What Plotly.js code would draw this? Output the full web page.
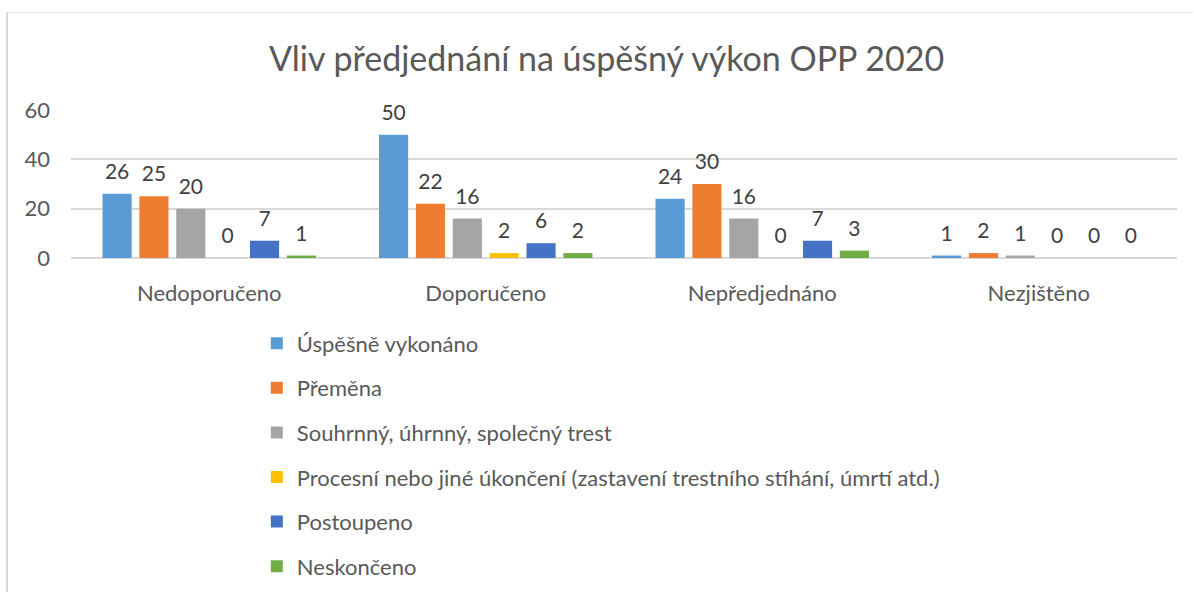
<!DOCTYPE html>
<html>
<head>
<meta charset="utf-8">
<script src="https://cdn.plot.ly/plotly-3.0.1.min.js"></script>
<style>html,body{margin:0;padding:0;background:#fff;}#chart{width:1194px;height:592px;}</style>
</head>
<body>
<div id="chart"></div>
<script>
const categories = ["Nedoporučeno", "Doporučeno", "Nepředjednáno", "Nezjištěno"];
const seriesNames = [
  "Úspěšně vykonáno",
  "Přeměna",
  "Souhrnný, úhrnný, společný trest",
  "Procesní nebo jiné úkončení (zastavení trestního stíhání, úmrtí atd.)",
  "Postoupeno",
  "Neskončeno"
];
const uspesneVykonano = [26, 50, 24, 1];
const premena = [25, 22, 30, 2];
const souhrnny = [20, 16, 16, 1];
const procesni = [0, 2, 0, 0];
const postoupeno = [7, 6, 7, 0];
const neskonceno = [1, 2, 3, 0];
const yTicks = [0, 20, 40, 60];

const seriesValues = [uspesneVykonano, premena, souhrnny, procesni, postoupeno, neskonceno];
const colors = ["#5B9BD5", "#ED7D31", "#A5A5A5", "#FFC000", "#4472C4", "#70AD47"];
const FONT = "Lato, 'Open Sans', sans-serif";

const traces = seriesValues.map((vals, i) => ({
  type: "bar",
  name: seriesNames[i],
  x: categories,
  y: vals,
  marker: {color: colors[i]},
  text: vals.map(String),
  textposition: "outside",
  cliponaxis: false,
  textfont: {family: FONT, size: 21, color: "#404040"},
  legendgroup: "g" + i,
  hoverinfo: "name+y"
}));

const layout = {
  width: 1194,
  height: 592,
  paper_bgcolor: "#ffffff",
  plot_bgcolor: "#ffffff",
  margin: {l: 71, r: 17, t: 110, b: 334, autoexpand: false},
  title: {
    text: "Vliv předjednání na úspěšný výkon OPP 2020",
    font: {family: FONT, size: 34, color: "#595959"},
    x: 0.508, xanchor: "center",
    y: 0.9, yref: "container", yanchor: "middle"
  },
  barmode: "group",
  bargap: 0.2,
  bargroupgap: 0.21,
  showlegend: true,
  legend: {
    orientation: "v",
    x: 0.168, xanchor: "left",
    y: -0.435, yanchor: "top",
    font: {family: FONT, size: 22, color: "#595959"},
    tracegroupgap: 13,
    itemwidth: 30,
    traceorder: "grouped"
  },
  xaxis: {
    type: "category",
    tickfont: {family: FONT, size: 22, color: "#595959"},
    showline: false,
    ticks: "",
    showgrid: false,
    zeroline: false,
    ticklabelstandoff: 20
  },
  yaxis: {
    range: [0, 60],
    tickvals: yTicks,
    ticktext: yTicks.map(String),
    tickfont: {family: FONT, size: 22, color: "#595959"},
    showgrid: true,
    gridcolor: "#D9D9D9",
    gridwidth: 2,
    zeroline: true,
    zerolinecolor: "#D9D9D9",
    zerolinewidth: 2,
    ticks: "",
    ticklabelstandoff: 20
  },
  shapes: [
    {type: "line", xref: "paper", yref: "paper", x0: (7 - 71) / 1106, x1: (7 - 71) / 1106, y0: 1 + (110 - 12) / 148, y1: -(592 - 258) / 148, line: {color: "#D9D9D9", width: 2}},
    {type: "line", xref: "paper", yref: "paper", x0: (7 - 71) / 1106, x1: (1193 - 71) / 1106, y0: 1 + (110 - 12.5) / 148, y1: 1 + (110 - 12.5) / 148, line: {color: "#E3E3E3", width: 1}}
  ]
};

Plotly.newPlot("chart", traces, layout, {displayModeBar: false, staticPlot: true}).then(gd => {
  // lift data labels a little above the bars, as in the reference
  gd.querySelectorAll(".bartext").forEach(t => {
    const tr = t.getAttribute("transform") || "";
    t.setAttribute("transform", "translate(0,-8) " + tr);
  });
});
</script>
</body>
</html>
